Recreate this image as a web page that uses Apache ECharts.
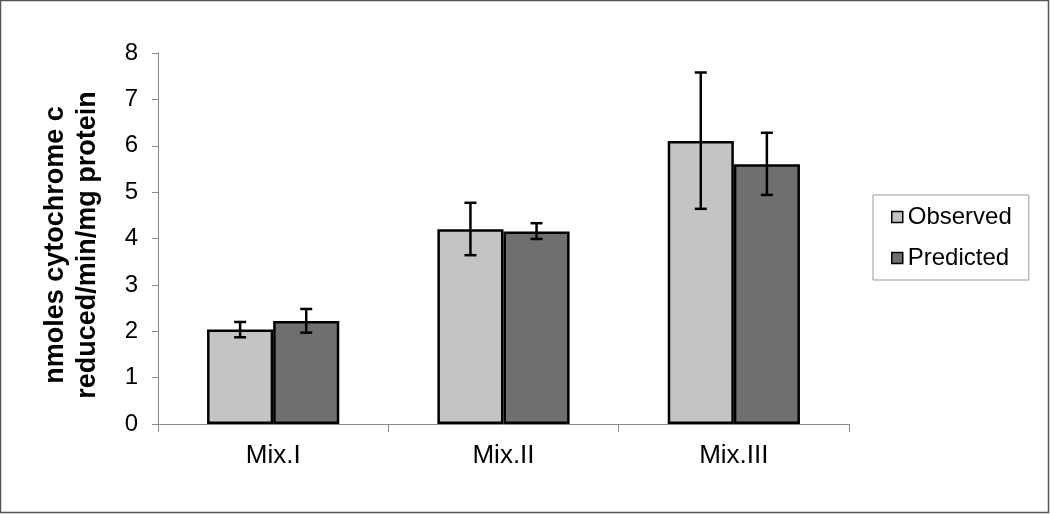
<!DOCTYPE html>
<html><head><meta charset="utf-8">
<script src="https://cdn.jsdelivr.net/npm/echarts@6/dist/echarts.min.js"></script>
<style>html,body{margin:0;padding:0;background:#fff}#c{width:1050px;height:514px}</style>
</head><body><div id="c"></div>
<script>
const categories = ['Mix.I', 'Mix.II', 'Mix.III'];
const observed = [2.04, 4.2, 6.1];
const observedLow = [1.87, 3.64, 4.64];
const observedHigh = [2.2, 4.77, 7.58];
const predicted = [2.22, 4.15, 5.6];
const predictedLow = [1.97, 3.99, 4.94];
const predictedHigh = [2.48, 4.33, 6.28];
const seriesNames = ['Observed', 'Predicted'];
const yTicks = [0, 1, 2, 3, 4, 5, 6, 7, 8];

const BAR_FRAC = 0.287;
function errData(low, high) { return categories.map((c, i) => [i, low[i], high[i]]); }
function errSeries(name, low, high, side) {
  return {
    type: 'custom', name: name + ' err', silent: true, z: 10,
    data: errData(low, high),
    renderItem: function (params, api) {
      const band = api.size([1, 0])[0];
      const off = side * band * BAR_FRAC / 2;
      const lo = api.coord([api.value(0), api.value(1)]);
      const hi = api.coord([api.value(0), api.value(2)]);
      const x = lo[0] + off, cap = 6;
      const st = { stroke: '#000', lineWidth: 2.5 };
      return { type: 'group', children: [
        { type: 'line', shape: { x1: x, y1: lo[1], x2: x, y2: hi[1] }, style: st },
        { type: 'line', shape: { x1: x - cap, y1: lo[1], x2: x + cap, y2: lo[1] }, style: st },
        { type: 'line', shape: { x1: x - cap, y1: hi[1], x2: x + cap, y2: hi[1] }, style: st }
      ]};
    }
  };
}
const chart = echarts.init(document.getElementById('c'), null, { renderer: 'canvas' });
chart.setOption({
  animation: false,
  backgroundColor: '#fff',
  graphic: [{ type: 'rect', shape: { x: 0.5, y: 0.5, width: 1048, height: 512 }, style: { fill: 'none', stroke: '#555', lineWidth: 1.5 } }],
  grid: { left: 158, right: 201, top: 53, bottom: 90 },
  legend: {
    data: seriesNames, orient: 'vertical', left: 873, top: 195,
    padding: [10, 17, 10, 18], itemGap: 17, itemWidth: 11, itemHeight: 11, icon: 'rect',
    borderColor: '#999', borderWidth: 1,
    itemStyle: { borderColor: '#000', borderWidth: 1.5 },
    textStyle: { fontFamily: 'Liberation Sans, Arial', fontSize: 24, color: '#000', padding: [0, 0, 0, 0] }
  },
  xAxis: {
    type: 'category', data: categories,
    axisLine: { lineStyle: { color: '#888', width: 1 } },
    axisTick: { show: true, length: 8, lineStyle: { color: '#888' } },
    axisLabel: { fontFamily: 'Liberation Sans, Arial', fontSize: 26, color: '#000', margin: 19 }
  },
  yAxis: {
    type: 'value', min: 0, max: 8, interval: 1,
    name: 'nmoles cytochrome c\nreduced/min/mg protein',
    nameLocation: 'middle', nameRotate: 90, nameGap: 54,
    nameTextStyle: { fontFamily: 'Liberation Sans, Arial', fontWeight: 'bold', fontSize: 27, color: '#000', lineHeight: 32, padding: [0, 13, 0, 0] },
    axisLine: { show: true, lineStyle: { color: '#888', width: 1 } },
    axisTick: { show: true, length: 6, lineStyle: { color: '#888' } },
    splitLine: { show: false },
    axisLabel: { fontFamily: 'Liberation Sans, Arial', fontSize: 24, color: '#000', margin: 20,
      formatter: v => yTicks.includes(v) ? String(v) : '' }
  },
  series: [
    { type: 'bar', name: seriesNames[0], data: observed, barWidth: (BAR_FRAC * 100) + '%', barGap: '0%',
      itemStyle: { color: '#c4c4c4', borderColor: '#000', borderWidth: 2.5 } },
    { type: 'bar', name: seriesNames[1], data: predicted, barWidth: (BAR_FRAC * 100) + '%', barGap: '0%',
      itemStyle: { color: '#6f6f6f', borderColor: '#000', borderWidth: 2.5 } },
    errSeries(seriesNames[0], observedLow, observedHigh, -1),
    errSeries(seriesNames[1], predictedLow, predictedHigh, 1)
  ]
});
</script></body></html>
